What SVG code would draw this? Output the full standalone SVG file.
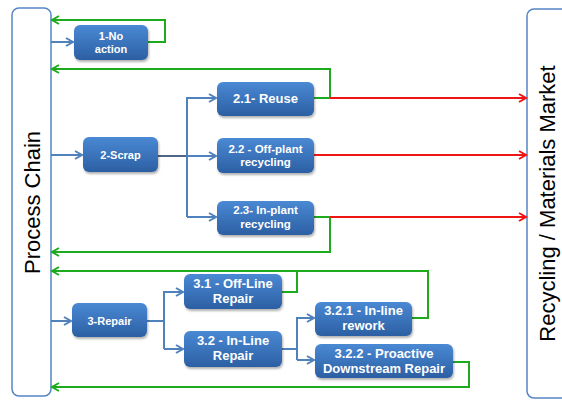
<svg xmlns="http://www.w3.org/2000/svg" width="562" height="401" viewBox="0 0 562 401">
<defs>
  <linearGradient id="nodeGrad" x1="0" y1="0" x2="0" y2="1">
    <stop offset="0" stop-color="#4A89D4"/>
    <stop offset="1" stop-color="#2C5FA3"/>
  </linearGradient>
  <filter id="shadow" x="-10%" y="-10%" width="130%" height="140%">
    <feDropShadow dx="1" dy="2" stdDeviation="1.2" flood-color="#000" flood-opacity="0.3"/>
  </filter>
  <marker id="arrBlue" markerUnits="userSpaceOnUse" markerWidth="12" markerHeight="12" refX="9" refY="5" orient="auto">
    <path d="M2,1 L9,5 L2,9" fill="none" stroke="#4F81BD" stroke-width="2"/>
  </marker>
  <marker id="arrGreen" markerUnits="userSpaceOnUse" markerWidth="12" markerHeight="12" refX="9" refY="5" orient="auto">
    <path d="M2,1 L9,5 L2,9" fill="none" stroke="#1DAA1D" stroke-width="2"/>
  </marker>
  <marker id="arrRed" markerUnits="userSpaceOnUse" markerWidth="12" markerHeight="12" refX="9" refY="5" orient="auto">
    <path d="M2,1 L9,5 L2,9" fill="none" stroke="#F01515" stroke-width="2"/>
  </marker>
</defs>
<style>
  .panel { fill: #FFFFFF; stroke: #5585C3; stroke-width: 1.5; }
  .panelText { font-family: "Liberation Sans", Arial, sans-serif; font-size: 22px; fill: #000; text-anchor: middle; }
  .node rect { fill: url(#nodeGrad); filter: url(#shadow); }
  .node text { font-family: "Liberation Sans", Arial, sans-serif; font-weight: bold; fill: #FFFFFF; text-anchor: middle; }
  .blue { fill: none; stroke: #4F81BD; stroke-width: 2; }
  .blueA { fill: none; stroke: #4F81BD; stroke-width: 2; marker-end: url(#arrBlue); }
  .dark { fill: none; stroke: #4D6685; stroke-width: 2; }
  .green { fill: none; stroke: #1DAA1D; stroke-width: 2; }
  .greenA { fill: none; stroke: #1DAA1D; stroke-width: 2; marker-end: url(#arrGreen); }
  .redA { fill: none; stroke: #F01515; stroke-width: 2; marker-end: url(#arrRed); }
</style>

<g id="process-chain">
  <rect class="panel" x="12" y="8" width="39" height="388" rx="7"/>
  <text class="panelText" font-size="23" transform="translate(40,202.5) rotate(-90)">Process Chain</text>
</g>
<g id="recycling-market">
  <rect class="panel" x="527" y="9" width="50" height="389" rx="7"/>
  <text class="panelText" transform="translate(555,203.5) rotate(-90)">Recycling / Materials Market</text>
</g>

<g id="connectors">
  <!-- blue feeds from process chain -->
  <line class="blueA" x1="51" y1="42" x2="73" y2="42"/>
  <line class="blueA" x1="51" y1="155" x2="82" y2="155"/>
  <line class="blueA" x1="51" y1="321" x2="71" y2="321"/>
  <!-- scrap branches -->
  <line class="dark" x1="158" y1="156" x2="187" y2="156"/>
  <polyline class="blueA" points="187,217 187,98 216,98"/>
  <line class="blueA" x1="187" y1="156" x2="216" y2="156"/>
  <line class="blueA" x1="187" y1="217" x2="216" y2="217"/>
  <!-- repair branches -->
  <line class="blue" x1="147" y1="321" x2="164" y2="321"/>
  <polyline class="blueA" points="164,349 164,292 183,292"/>
  <line class="blueA" x1="164" y1="349" x2="183" y2="349"/>
  <line class="blue" x1="282" y1="349" x2="297" y2="349"/>
  <polyline class="blueA" points="297,360 297,318 314,318"/>
  <line class="blueA" x1="297" y1="360" x2="314" y2="360"/>
  <!-- green returns -->
  <polyline class="greenA" points="148,42 165,42 165,20 52,20"/>
  <polyline class="greenA" points="314,98 330,98 330,69 52,69"/>
  <polyline class="greenA" points="314,217 330,217 330,252 52,252"/>
  <polyline class="greenA" points="412,318 428,318 428,271 52,271"/>
  <polyline class="green" points="282,292 297,292 297,271"/>
  <polyline class="greenA" points="453,362 469,362 469,387 52,387"/>
  <!-- red to market -->
  <line class="redA" x1="330" y1="98" x2="526" y2="98"/>
  <line class="redA" x1="314" y1="155" x2="526" y2="155"/>
  <line class="redA" x1="330" y1="217" x2="526" y2="217"/>
</g>

<g id="n1" class="node">
  <rect x="74" y="25" width="74" height="35" rx="6"/>
  <text font-size="11"><tspan x="111" y="40">1-No</tspan><tspan x="111" y="52.7">action</tspan></text>
</g>
<g id="n2" class="node">
  <rect x="83" y="137" width="75" height="35" rx="6"/>
  <text font-size="11" x="120.5" y="159">2-Scrap</text>
</g>
<g id="n21" class="node">
  <rect x="217" y="82" width="97" height="34" rx="6"/>
  <text font-size="13" x="265.5" y="103">2.1- Reuse</text>
</g>
<g id="n22" class="node">
  <rect x="217" y="138" width="97" height="35" rx="6"/>
  <text font-size="11.5"><tspan x="265.5" y="153.3">2.2 - Off-plant</tspan><tspan x="265.5" y="166.3">recycling</tspan></text>
</g>
<g id="n23" class="node">
  <rect x="217" y="201" width="97" height="34" rx="6"/>
  <text font-size="11.5"><tspan x="265.5" y="214.3">2.3- In-plant</tspan><tspan x="265.5" y="227.5">recycling</tspan></text>
</g>
<g id="n3" class="node">
  <rect x="72" y="303" width="75" height="34" rx="6"/>
  <text font-size="11" x="109.5" y="324.5">3-Repair</text>
</g>
<g id="n31" class="node">
  <rect x="184" y="274" width="98" height="35" rx="6"/>
  <text font-size="13"><tspan x="233" y="288.3">3.1 - Off-Line</tspan><tspan x="233" y="302.7">Repair</tspan></text>
</g>
<g id="n32" class="node">
  <rect x="184" y="331" width="98" height="36" rx="6"/>
  <text font-size="13"><tspan x="233" y="345.3">3.2 - In-Line</tspan><tspan x="233" y="360">Repair</tspan></text>
</g>
<g id="n321" class="node">
  <rect x="315" y="302" width="97" height="34" rx="6"/>
  <text font-size="13"><tspan x="363.5" y="315.3">3.2.1 - In-line</tspan><tspan x="363.5" y="329.5">rework</tspan></text>
</g>
<g id="n322" class="node">
  <rect x="315" y="344" width="138" height="34" rx="6"/>
  <text font-size="13"><tspan x="384" y="358.3">3.2.2 - Proactive</tspan><tspan x="384" y="372.7">Downstream Repair</tspan></text>
</g>
</svg>
